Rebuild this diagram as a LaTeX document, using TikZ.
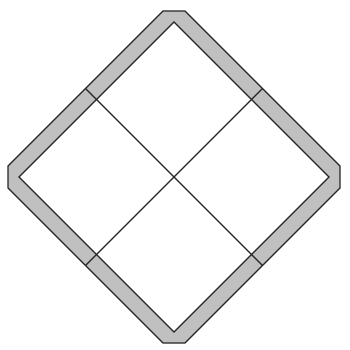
\documentclass[tikz,border=0pt]{standalone}
\begin{document}
\begin{tikzpicture}[x=1pt,y=-1pt,
  frameline/.style={draw=black!85,line width=1.3pt,line join=miter},
  divline/.style={draw=black!85,line width=1.2pt}]
\useasboundingbox (0,0) rectangle (349,350);
% outer octagon
\coordinate (o1) at (163,11);
\coordinate (o2) at (185,11);
\coordinate (o3) at (340,166);
\coordinate (o4) at (340,188);
\coordinate (o5) at (185,343);
\coordinate (o6) at (163,343);
\coordinate (o7) at (8,188);
\coordinate (o8) at (8,166);
\fill[fill={rgb,255:red,192;green,192;blue,192}] (o1)--(o2)--(o3)--(o4)--(o5)--(o6)--(o7)--(o8)--cycle;
\draw[frameline] (o1)--(o2)--(o3)--(o4)--(o5)--(o6)--(o7)--(o8)--cycle;
% inner diamond
\coordinate (it) at (174,22);
\coordinate (ir) at (329,177);
\coordinate (ib) at (174,332);
\coordinate (il) at (19,177);
\fill[white] (it)--(ir)--(ib)--(il)--cycle;
\draw[frameline] (it)--(ir)--(ib)--(il)--cycle;
% midpoints
\coordinate (mul) at (96.5,99.5);
\coordinate (mur) at (251.5,99.5);
\coordinate (mlr) at (251.5,254.5);
\coordinate (mll) at (96.5,254.5);
\coordinate (oul) at (85.5,88.5);
\coordinate (our) at (262.5,88.5);
\coordinate (olr) at (262.5,265.5);
\coordinate (oll) at (85.5,265.5);
\draw[divline] (mul) -- (mlr);
\draw[divline] (mur) -- (mll);
\draw[divline] (mul) -- (oul);
\draw[divline] (mur) -- (our);
\draw[divline] (mlr) -- (olr);
\draw[divline] (mll) -- (oll);
\end{tikzpicture}
\end{document}
